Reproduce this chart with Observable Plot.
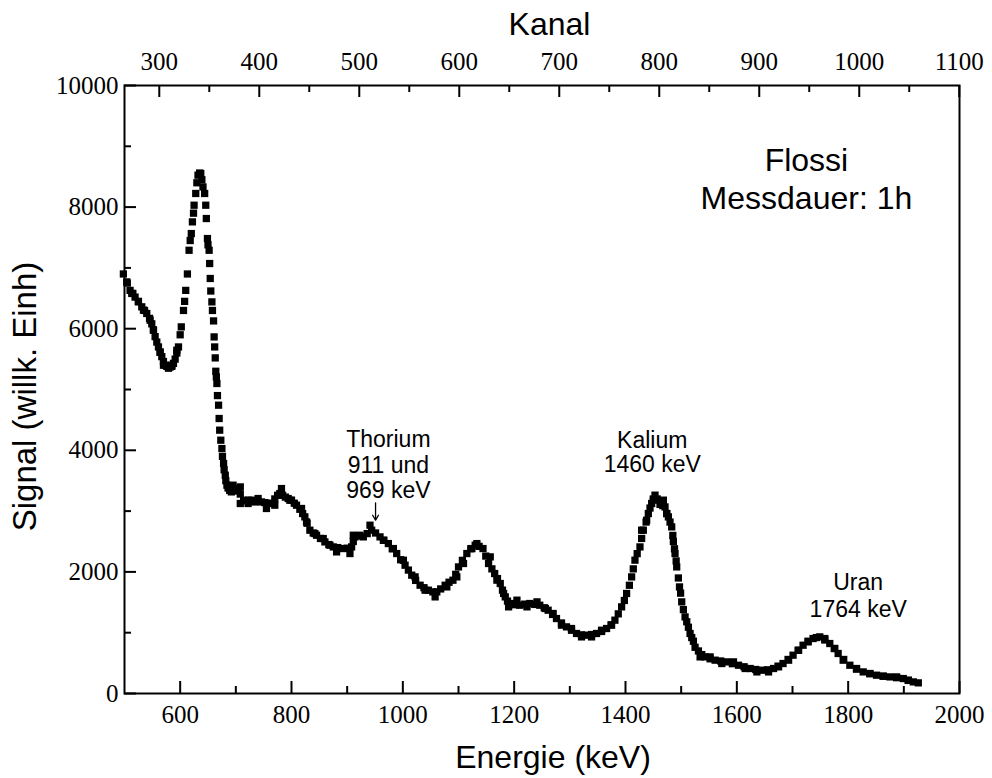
<!DOCTYPE html>
<html><head><meta charset="utf-8">
<script src="https://cdn.jsdelivr.net/npm/d3@7"></script>
<script src="https://cdn.jsdelivr.net/npm/@observablehq/plot@0.6"></script>
<style>
body{margin:0;background:#fff}
#chart g[aria-label$="tick label"] text{font-size:25px !important;font-family:"Liberation Serif","Times New Roman",serif !important}
</style>
</head><body><div id="chart"></div>
<script>
// Energy (keV) of each measured point
const energie = [
  498,505,510,515,519,525,531,536,540,545,
  549,552,555,558,561,564,567,570,573,576,
  579,582,585,588,591,594,597,600,602,606,
  608,610,613,616,618,620,622,624,625,628,
  630,632,635,637,639,641,644,646,647,649,
  650,652,653,654,655,657,658,660,661,662,
  663,664,665,666,667,669,670,671,673,675,
  676,678,679,681,682,684,686,689,692,696,
  700,705,708,714,718,723,728,734,740,746,
  752,758,764,770,775,779,784,789,794,800,
  805,809,815,820,824,828,833,839,845,852,
  860,867,875,883,893,900,908,911,914,921,
  929,936,944,951,959,966,974,981,989,996,
  1004,1010,1016,1023,1031,1038,1046,1054,1061,1068,
  1076,1083,1090,1095,1100,1107,1115,1122,1130,1137,
  1144,1149,1154,1160,1165,1170,1175,1179,1184,1188,
  1193,1201,1210,1219,1228,1237,1246,1254,1261,1269,
  1276,1285,1294,1303,1312,1321,1330,1339,1348,1357,
  1366,1374,1381,1387,1393,1398,1402,1407,1411,1414,
  1417,1421,1426,1429,1432,1437,1441,1444,1447,1450,
  1453,1457,1462,1467,1471,1474,1477,1480,1483,1485,
  1486,1488,1489,1491,1492,1495,1497,1499,1501,1504,
  1507,1510,1513,1516,1519,1522,1525,1531,1537,1543,
  1552,1561,1571,1582,1592,1603,1613,1624,1634,1645,
  1655,1666,1674,1683,1692,1701,1710,1719,1728,1737,
  1743,1749,1758,1767,1775,1782,1792,1803,1815,1827,
  1839,1851,1863,1875,1887,1899,1908,1917,1926
];
// Signal (willk. Einh) of each point
const signal = [
  6900,6750,6630,6580,6520,6450,6360,6300,6250,6170,
  6080,5980,5870,5780,5700,5610,5540,5460,5400,5380,
  5350,5370,5380,5430,5500,5600,5700,5900,6030,6300,
  6450,6630,6900,7290,7450,7565,7757,7900,8031,8224,
  8400,8525,8560,8552,8450,8332,8224,8031,7812,7483,
  7380,7290,7072,6826,6620,6441,6300,6128,5865,5700,
  5520,5300,5207,5099,4900,4742,4523,4331,4166,4029,
  3900,3783,3680,3590,3500,3426,3380,3340,3316,3330,
  3360,3371,3280,3179,3170,3180,3179,3150,3160,3151,
  3140,3130,3125,3200,3260,3289,3260,3230,3207,3180,
  3130,3097,3030,2960,2905,2800,2686,2640,2603,2550,
  2493,2450,2411,2400,2384,2390,2411,2500,2576,2590,
  2576,2630,2686,2640,2576,2520,2466,2380,2302,2200,
  2110,2030,1946,1860,1781,1740,1699,1671,1671,1720,
  1781,1830,1863,1960,2082,2190,2302,2380,2439,2420,
  2384,2260,2138,2050,1973,1890,1809,1700,1589,1520,
  1480,1460,1452,1470,1480,1465,1452,1410,1370,1300,
  1233,1160,1096,1040,987,965,959,970,987,1020,
  1069,1130,1206,1310,1425,1530,1645,1780,1918,2050,
  2193,2300,2411,2550,2686,2820,2960,3050,3125,3200,
  3262,3200,3110,3090,3069,2960,2905,2820,2740,2600,
  2500,2380,2302,2180,2082,1900,1753,1650,1507,1380,
  1260,1180,1090,987,920,860,760,700,640,602,
  570,548,535,520,490,465,440,411,395,383,
  390,411,450,493,560,630,710,794,860,904,
  920,931,880,822,740,658,560,465,400,355,
  325,301,285,273,260,246,215,191,175
];
// Further points read where the measured band is spread out
const energie2 = [
  504,513,525,534,546,552,564,570,585,594,
  695,708,708,722,740,755,770,782,797,818,
  827,842,857,869,881,905,911,923,941,965,
  983,1001,1022,1040,1058,1079,1097,1109,1124,1133,
  1157,1169,1181,1190,1205,1223,1241,1256,1270,1285,
  1303,1321,1339,1357,1375,1429,1438,1450,1468,1474,
  1534,1552,1573,1594,1615,1636,1657,1675,1693,1711,
  1728,1758,1776,1791,1815,1839,1863,1887,1908
];
const signal2 = [
  6770,6580,6441,6305,6140,5975,5618,5400,5400,5646,
  3426,3398,3125,3125,3207,3043,3097,3371,3179,3043,
  2822,2631,2549,2439,2329,2302,2603,2603,2768,2521,
  2384,2192,1918,1699,1589,1753,1918,2138,2384,2466,
  2247,1864,1645,1425,1535,1425,1507,1398,1316,1124,
  1069,931,931,1041,1124,2686,2850,3180,3180,2960,
  602,602,493,520,411,355,355,438,548,712,
  849,904,740,548,411,329,284,273,219
];

const energyTicks = [600, 800, 1000, 1200, 1400, 1600, 1800, 2000];
const energyMinor = [700, 900, 1100, 1300, 1500, 1700, 1900];
const signalTicks = [0, 2000, 4000, 6000, 8000, 10000];
const signalMinor = [1000, 3000, 5000, 7000, 9000];
const kanalTicks = [300, 400, 500, 600, 700, 800, 900, 1000, 1100];
const kanalMinor = [350, 450, 550, 650, 750, 850, 950, 1050];
// channel -> energy calibration
const kanalGain = 1.7963, kanalOffset = 23.6;
const toE = k => k * kanalGain + kanalOffset;

const annotations = [
  {text: "Flossi\nMessdauer: 1h", x: 1725, y: 8487, size: 32, lh: 1.21},
  {text: "Thorium\n911 und\n969 keV", x: 974, y: 3766, size: 23, lh: 1.09},
  {text: "Kalium\n1460 keV", x: 1448, y: 3969, size: 23, lh: 1.06},
  {text: "Uran\n1764 keV", x: 1818, y: 1618, size: 23, lh: 1.18}
];
const arrowData = [{x: 951, y1: 3135, y2: 2850}];

const W = 992, H = 778, mL = 124, mR = 33, mT = 85, mB = 85;
const pw = W - mL - mR, ph = H - mT - mB;
const serif = "Liberation Serif, Times New Roman, serif";
const sans = "Liberation Sans, Arial, sans-serif";
const tickFont = 25;

const chart = Plot.plot({
  width: W, height: H,
  marginLeft: mL, marginRight: mR, marginTop: mT, marginBottom: mB,
  x: {domain: [500, 2000]},
  y: {domain: [0, 10000]},
  style: {background: "white", color: "black", fontFamily: serif, fontSize: tickFont + "px"},
  marks: [
    Plot.frame({stroke: "black", strokeWidth: 2}),
    // bottom ticks (inward)
    Plot.tickX(energyTicks, {x: d => d, insetTop: ph - 12, stroke: "black", strokeWidth: 2}),
    Plot.tickX(energyMinor, {x: d => d, insetTop: ph - 7, stroke: "black", strokeWidth: 2}),
    // top ticks (Kanal)
    Plot.tickX(kanalTicks.map(toE), {x: d => d, insetBottom: ph - 12, stroke: "black", strokeWidth: 2}),
    Plot.tickX(kanalMinor.map(toE), {x: d => d, insetBottom: ph - 7, stroke: "black", strokeWidth: 2}),
    // left ticks
    Plot.tickY(signalTicks, {y: d => d, insetRight: pw - 12, stroke: "black", strokeWidth: 2}),
    Plot.tickY(signalMinor, {y: d => d, insetRight: pw - 7, stroke: "black", strokeWidth: 2}),
    Plot.axisX({ticks: energyTicks, tickFormat: d => String(d), tickSize: 0, tickPadding: 12,
      fontSize: tickFont, fontFamily: serif, label: null}),
    Plot.axisX({anchor: "top", ticks: kanalTicks.map(toE), tickFormat: (d, i) => String(kanalTicks[i]),
      tickSize: 0, tickPadding: 16, fontSize: tickFont, fontFamily: serif, label: null}),
    Plot.axisY({ticks: signalTicks, tickSize: 0, tickPadding: 6, fontSize: tickFont, fontFamily: serif,
      label: null, tickFormat: d => String(d)}),
    Plot.text(["Energie (keV)"], {frameAnchor: "bottom", lineAnchor: "middle", textAnchor: "middle",
      dy: 64.5, dx: 11, fontSize: 32, fontFamily: sans}),
    Plot.text(["Kanal"], {frameAnchor: "top", lineAnchor: "middle", textAnchor: "middle",
      dy: -61, dx: 7.5, fontSize: 32, fontFamily: sans}),
    Plot.text(["Signal (willk. Einh)"], {frameAnchor: "left", lineAnchor: "middle", textAnchor: "middle",
      dx: -99.5, dy: 7, rotate: -90, fontSize: 33, fontFamily: sans}),
    Plot.dot(energie, {x: d => d, y: (d, i) => signal[i], symbol: "square", r: 4.1, fill: "black", stroke: null}),
    Plot.dot(energie2, {x: d => d, y: (d, i) => signal2[i], symbol: "square", r: 4.1, fill: "black", stroke: null}),
    ...annotations.map(a => Plot.text([a], {x: "x", y: "y", text: "text", fontSize: a.size, lineHeight: a.lh,
      fontFamily: sans, fill: "black"})),
    Plot.arrow(arrowData, {x: "x", y1: "y1", y2: "y2", stroke: "black", strokeWidth: 1.3, headLength: 7})
  ]
});
document.getElementById("chart").appendChild(chart);
</script>
</body></html>
